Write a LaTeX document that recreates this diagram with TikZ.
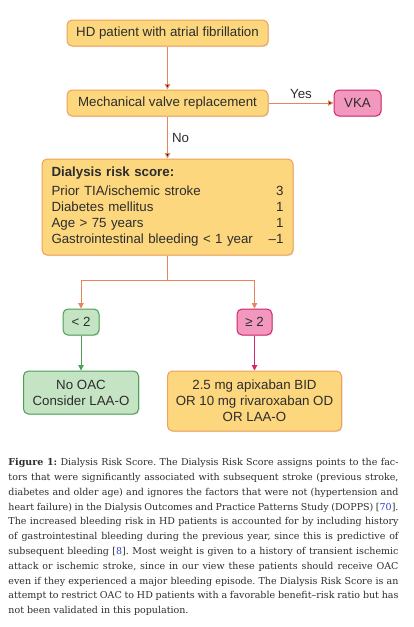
\documentclass[tikz,border=0pt]{standalone}
\usepackage{fontspec}
\setmainfont{Liberation Sans}
\newfontfamily\captfont{DejaVu Serif}
\usetikzlibrary{arrows.meta,shadows}

\definecolor{orangefill}{RGB}{252,215,125}
\definecolor{orangeline}{RGB}{238,160,92}
\definecolor{orangearrow}{RGB}{232,132,90}
\definecolor{greenfill}{RGB}{196,228,196}
\definecolor{greenline}{RGB}{76,160,84}
\definecolor{pinkfill}{RGB}{242,152,190}
\definecolor{pinkline}{RGB}{212,36,108}
\definecolor{textgray}{RGB}{45,45,45}
\definecolor{citeblue}{RGB}{40,60,200}

\begin{document}
\begin{tikzpicture}[x=1pt,y=-1pt,auto,node distance=70pt,line width=1pt,
  box/.style={rectangle,rounded corners=5pt,draw=orangeline,fill=orangefill,text=textgray,
    minimum height=26pt,inner sep=0pt,font=\fontsize{13.3}{16}\selectfont,
    drop shadow={shadow xshift=1pt,shadow yshift=-1.2pt,opacity=0.2}},
  greenbox/.style={box,draw=greenline,fill=greenfill},
  pinkbox/.style={box,draw=pinkline,fill=pinkfill},
  flow/.style={draw=orangearrow,-{Triangle[length=5.5pt,width=5.5pt]}},
  lbl/.style={text=textgray,font=\fontsize{13.3}{16}\selectfont,inner sep=4pt},
  caption/.style={text=textgray,text width=390pt,align=justify,inner sep=0pt,
    font=\captfont\fontsize{9.5}{14.8}\selectfont\frenchspacing}]
\useasboundingbox (0,0) rectangle (413,627);

% flow chart
\node[box] (HD) [minimum width=201pt] at (167.5,33) {HD patient with atrial fibrillation};
\node[box] (MV) [minimum width=201pt, below of=HD] {Mechanical valve replacement};
\node[pinkbox] (VKA) [minimum width=47pt, node distance=190pt, right of=MV] {VKA};
\node[box] (DRS) [text width=232pt, align=left, inner xsep=9.5pt, inner ysep=6pt,
  minimum height=96pt, node distance=104pt, below of=MV]
  {\textbf{Dialysis risk score:}\\[3pt]
   Prior TIA/ischemic stroke\hfill 3\\
   Diabetes mellitus\hfill 1\\
   Age > 75 years\hfill 1\\
   Gastrointestinal bleeding < 1 year\hfill –1};
\node[greenbox] (LT) [minimum width=36pt] at (81,322) {< 2};
\node[pinkbox] (GE) [minimum width=35pt] at (254.5,322) {≥ 2};
\node[greenbox] (NoOAC) [minimum width=115pt, minimum height=43pt, align=center,
  node distance=70.5pt, below of=LT] {No OAC\\Consider LAA-O};
\node[box] (Apix) [minimum width=174pt, minimum height=60pt, align=center,
  node distance=79pt, below of=GE]
  {2.5 mg apixaban BID\\OR 10 mg rivaroxaban OD\\OR LAA-O};

\path[flow]
(HD) edge (MV)
(MV) edge node[lbl] {Yes} (VKA)
     edge node[lbl] {No} (DRS);

\draw[draw=orangearrow] (DRS.south) -- ++(0,25) coordinate (fork);
\draw[flow] (fork) -| (LT.north);
\draw[flow] (fork) -| (GE.north);
\draw[flow, draw=greenline] (LT) -- (NoOAC);
\draw[flow, draw=pinkline] (GE) -- (Apix);

% caption
\node[caption] (cap) [anchor=north west] at (8,458) {\textbf{Figure 1:} Dialysis Risk Score. The Dialysis Risk Score assigns points to the fac-\linebreak
tors that were significantly associated with subsequent stroke (previous stroke,\linebreak
diabetes and older age) and ignores the factors that were not (hypertension and\linebreak
heart failure) in the Dialysis Outcomes and Practice Patterns Study (DOPPS) [{\color{citeblue}70}].\linebreak
The increased bleeding risk in HD patients is accounted for by including history\linebreak
of gastrointestinal bleeding during the previous year, since this is predictive of\linebreak
subsequent bleeding [{\color{citeblue}8}]. Most weight is given to a history of transient ischemic\linebreak
attack or ischemic stroke, since in our view these patients should receive OAC\linebreak
even if they experienced a major bleeding episode. The Dialysis Risk Score is an\linebreak
attempt to restrict OAC to HD patients with a favorable benefit–risk ratio but has\linebreak
not been validated in this population.};
\end{tikzpicture}
\end{document}
